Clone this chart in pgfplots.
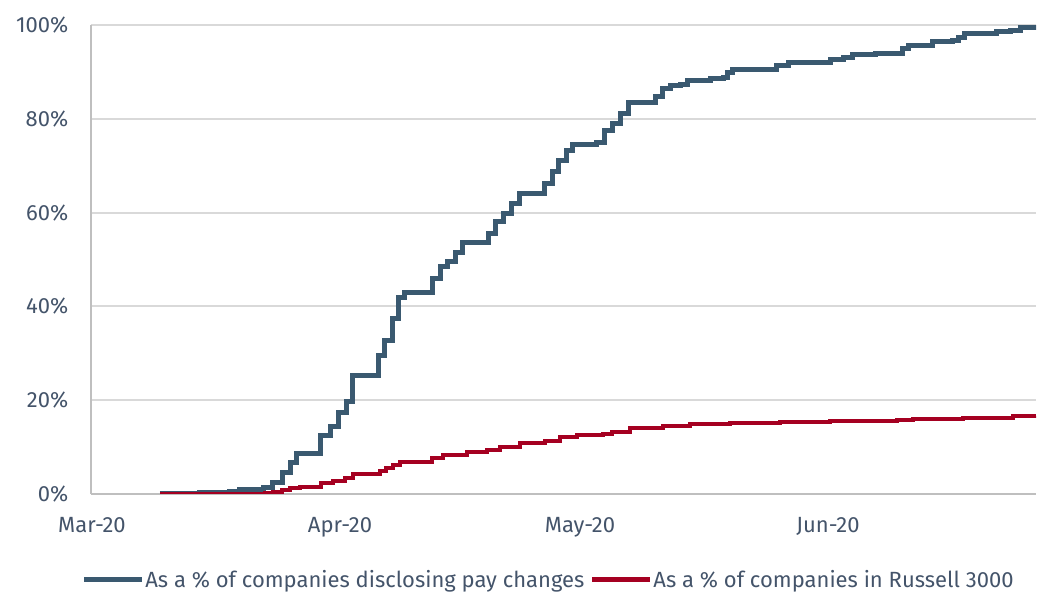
\documentclass[border=0pt]{standalone}
\usepackage{pgfplots}
\pgfplotsset{compat=1.18}
\usepackage{fontspec}
\setmainfont{Fira Sans}
\definecolor{payblue}{HTML}{3A5970}
\definecolor{russred}{HTML}{A50021}
\definecolor{txtgray}{HTML}{44546A}
\definecolor{gridgray}{HTML}{D9D9D9}
\definecolor{spinegray}{HTML}{BFBFBF}

% x = days since 1 Mar 2020
\pgfplotstableread{
day pct
8.5 0
13.5 0.3
17.25 0.6
18.5 0.9
21.4 1.3
22.6 2.5
23.75 4.5
24.75 6.8
25.6 8.7
28.6 12.4
29.75 14.3
30.75 17.3
31.75 19.8
32.6 25.2
35.75 29.6
36.6 32.8
37.5 37.5
38.25 41.8
39.1 43.0
42.6 46.0
43.5 48.4
44.4 49.6
45.4 51.4
46.25 53.6
49.5 55.6
50.4 58.0
51.4 59.9
52.4 62.0
53.4 64.1
56.6 66.3
57.5 68.7
58.25 71.2
59.25 73.2
60 74.6
63.1 75.0
64.1 77.6
65.1 78.9
66.1 81.2
67.1 83.4
70.4 84.8
71.25 86.4
72.25 87.0
73.5 87.4
74.4 88.1
77.25 88.5
78.9 88.9
79.4 89.8
80.1 90.5
85.6 91.3
87 91.9
92.25 92.6
93.9 93.0
95.1 93.8
97.9 94.0
101.25 94.9
102 95.7
105.1 96.4
107.6 96.8
108.25 97.4
109.1 98.1
113.1 98.6
114.75 98.9
116 99.4
118 99.6
}\paydata

\pgfplotstableread{
day pct
8.5 0
17.25 0.1
21.6 0.3
22.6 0.5
23.75 0.9
24.75 1.3
26 1.5
28.6 2.3
30.1 2.8
31.6 3.4
32.6 4.2
36 4.8
36.75 5.5
37.6 6.2
38.5 6.9
42.5 7.6
43.9 8.3
46.9 8.9
49.4 9.3
51 10.1
53.5 10.8
56.6 11.3
58.5 12.1
60.6 12.5
63.9 12.8
65 13.2
67.25 14.0
71.4 14.6
74.75 14.9
79.75 15.1
86 15.3
92.25 15.5
98.5 15.6
100.6 15.8
102.6 16.0
108.9 16.3
115.1 16.6
118 16.7
}\russdata

\begin{document}
\begin{tikzpicture}
\begin{axis}[
    scale only axis,
    width=708.75pt,
    height=351.75pt,
    xmin=-0.125, xmax=118,
    ymin=0, ymax=100,
    axis x line*=bottom,
    axis y line*=left,
    axis line style={spinegray, line width=1.5pt},
    xtick={0,31,61,92},
    xticklabels={Mar-20,Apr-20,May-20,Jun-20},
    ytick={0,20,40,60,80,100},
    yticklabel={\pgfmathprintnumber{\tick}\%},
    /pgf/number format/assume math mode=true,
    major tick length=0pt,
    ymajorgrids,
    grid style={gridgray, line width=1.5pt},
    tick label style={font=\fontsize{16.5}{19}\selectfont, text=txtgray},
    yticklabel style={xshift=-13.5pt},
    xticklabel style={yshift=-14pt},
    legend columns=2,
    legend style={
        draw=none, fill=none,
        at={(0.484,-0.183)}, anchor=center,
        font=\fontsize{16.5}{19}\selectfont, text=txtgray,
        nodes={inner xsep=1pt},
        /tikz/every even column/.append style={column sep=3pt},
        inner sep=0pt,
    },
    legend image code/.code={\draw[#1, line width=3.75pt] (0pt,0pt) -- (43pt,0pt);},
]
\addplot[const plot, payblue, line width=3.75pt] table[x=day, y=pct] {\paydata};
\addlegendentry{As a \% of companies disclosing pay changes}
\addplot[const plot, russred, line width=3pt] table[x=day, y=pct] {\russdata};
\addlegendentry{As a \% of companies in Russell 3000}
\end{axis}
\pgfresetboundingbox
\path[use as bounding box] (-68.25pt,-75.75pt) rectangle (714pt,370.5pt);
\end{tikzpicture}
\end{document}
